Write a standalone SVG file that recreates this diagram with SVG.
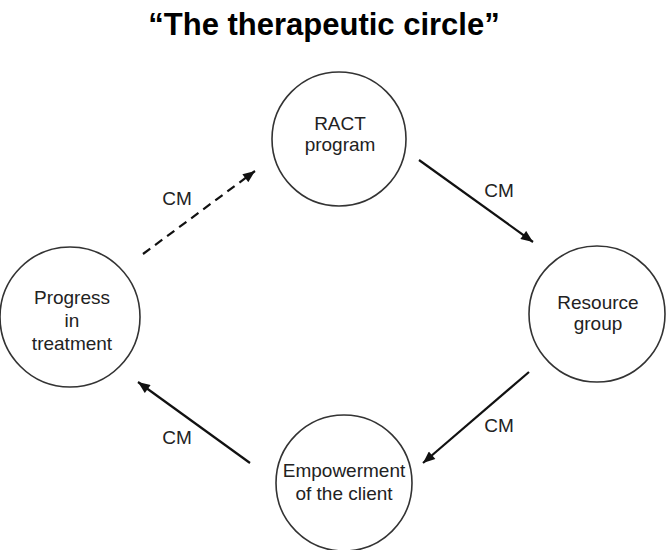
<svg xmlns="http://www.w3.org/2000/svg" width="666" height="550" viewBox="0 0 666 550">
<defs>
<marker id="ah" viewBox="0 0 12 10" refX="12" refY="5" markerWidth="13" markerHeight="10" markerUnits="userSpaceOnUse" orient="auto">
<path d="M0,0 L12,5 L0,10 z" fill="#111"/>
</marker>
<style>
.node{fill:#fff;stroke:#333;stroke-width:1.6}
.t{font-family:"Liberation Sans",Arial,sans-serif;font-size:19px;fill:#222;text-anchor:middle}
.e{stroke:#111;stroke-width:2.2;fill:none}
</style>
</defs>
<rect width="666" height="550" fill="#fff"/>
<text x="324" y="35" font-family="'Liberation Sans',Arial,sans-serif" font-size="31" font-weight="bold" text-anchor="middle" fill="#000">“The therapeutic circle”</text>
<g id="connectors">
<line class="e" x1="143" y1="254" x2="255" y2="171" stroke-dasharray="9,6" marker-end="url(#ah)"/>
<line class="e" x1="419" y1="160" x2="533" y2="242" marker-end="url(#ah)"/>
<line class="e" x1="529" y1="372" x2="423" y2="463" marker-end="url(#ah)"/>
<line class="e" x1="250" y1="463" x2="138" y2="382" marker-end="url(#ah)"/>
<text class="t" x="177" y="205">CM</text>
<text class="t" x="499" y="197">CM</text>
<text class="t" x="499" y="432">CM</text>
<text class="t" x="177" y="444">CM</text>
</g>
<g id="ract">
<circle class="node" cx="339" cy="139" r="67"/>
<text class="t" x="340" y="130">RACT</text>
<text class="t" x="340" y="151">program</text>
</g>
<g id="resource">
<circle class="node" cx="597" cy="314" r="68"/>
<text class="t" x="598" y="309">Resource</text>
<text class="t" x="598" y="330">group</text>
</g>
<g id="empowerment">
<circle class="node" cx="344" cy="483" r="68"/>
<text class="t" x="344" y="477">Empowerment</text>
<text class="t" x="344" y="500">of the client</text>
</g>
<g id="progress">
<circle class="node" cx="70" cy="317" r="70"/>
<text class="t" x="72" y="304">Progress</text>
<text class="t" x="72" y="327">in</text>
<text class="t" x="72" y="350">treatment</text>
</g>
</svg>
